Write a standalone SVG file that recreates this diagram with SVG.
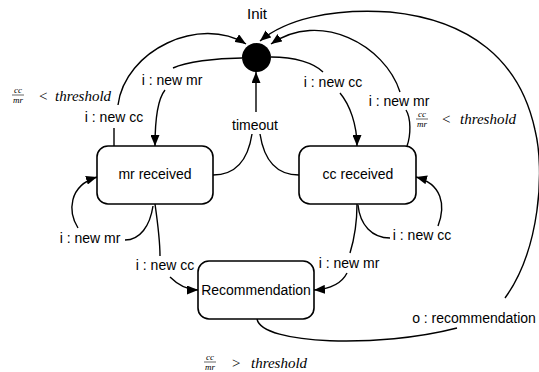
<svg xmlns="http://www.w3.org/2000/svg" width="539" height="372" viewBox="0 0 539 372">
<defs>
<marker id="ah" markerWidth="11" markerHeight="9" refX="11" refY="4.5" orient="auto" markerUnits="userSpaceOnUse">
<path d="M0,0 L11,4.5 L0,9 z" fill="#000"/>
</marker>
<style>
.st{fill:#fff;stroke:#000;stroke-width:1.6}
.lbl{font-family:"Liberation Sans",Arial,sans-serif;font-size:14px;fill:#000;text-anchor:middle}
.nm{font-family:"Liberation Sans",Arial,sans-serif;font-size:14px;fill:#000;text-anchor:middle}
.ln{fill:none;stroke:#000;stroke-width:1.4}
.arr{marker-end:url(#ah)}
.math{font-family:"Liberation Serif","Times New Roman",serif;font-style:italic;font-size:15px;fill:#000}
.op{font-family:"Liberation Serif","Times New Roman",serif;font-size:15px;fill:#000}
.fr{font-family:"Liberation Serif","Times New Roman",serif;font-style:italic;font-size:9px;fill:#000;text-anchor:middle}
</style>
</defs>
<rect width="539" height="372" fill="#fff"/>
<g id="connectors">
<path class="ln" d="M114,146 L114,128"/>
<path class="ln arr" d="M118,105 C125,50 200,15 246,44"/>
<path class="ln" d="M242,58 C215,58 186,62 173,68"/>
<path class="ln arr" d="M165,90 C157,100 155,120 155,146"/>
<path class="ln" d="M271,57 C295,57 314,63 323,72"/>
<path class="ln arr" d="M340,93 C350,105 357,125 357,146"/>
<path class="ln" d="M407,146 C411,135 411,118 406,110"/>
<path class="ln arr" d="M400,92 C385,45 320,10 271,44"/>
<path class="ln arr" d="M256,112 L256,72"/>
<path class="ln" d="M252,134 C248,160 236,175 213,175"/>
<path class="ln" d="M260,134 C264,160 276,175 299,175"/>
<path class="ln" d="M153,206 C150,226 140,240 125,240"/>
<path class="ln arr" d="M78,228 C68,212 68,186 97,177"/>
<path class="ln" d="M358,205 C360,225 372,238 390,238"/>
<path class="ln arr" d="M438,226 C446,205 442,184 416,177"/>
<path class="ln" d="M155,204 C158,225 160,240 160,256"/>
<path class="ln arr" d="M170,277 C178,285 187,290 198,290"/>
<path class="ln" d="M357,204 C357,225 354,240 350,253"/>
<path class="ln arr" d="M347,273 C342,283 330,289 314,290"/>
<path class="ln" d="M257,319 C262,345 380,348 457,328"/>
<path class="ln arr" d="M505,298 C540,250 545,170 535,130 C520,60 470,20 390,12 C330,8 285,20 260,41"/>
</g>
<g id="labels">
<text class="lbl" x="114" y="122">i : new cc</text>
<text class="lbl" x="172" y="85">i : new mr</text>
<text class="lbl" x="333" y="87">i : new cc</text>
<text class="lbl" x="399" y="106">i : new mr</text>
<text class="nm" x="255" y="130">timeout</text>
<text class="lbl" x="90" y="243">i : new mr</text>
<text class="lbl" x="422" y="240">i : new cc</text>
<text class="lbl" x="165" y="270">i : new cc</text>
<text class="lbl" x="349" y="268">i : new mr</text>
<text class="lbl" x="474" y="323">o : recommendation</text>
</g>
<g id="guard-left">
<text class="fr" x="18" y="93">cc</text>
<line x1="12" y1="95" x2="24" y2="95" stroke="#000" stroke-width="0.6"/>
<text class="fr" x="18" y="103">mr</text>
<text class="op" x="39" y="101">&lt;</text>
<text class="math" x="55" y="101">threshold</text>
</g>
<g id="guard-right">
<text class="fr" x="422" y="117">cc</text>
<line x1="416" y1="119" x2="428" y2="119" stroke="#000" stroke-width="0.6"/>
<text class="fr" x="422" y="127">mr</text>
<text class="op" x="442" y="124">&lt;</text>
<text class="math" x="460" y="124">threshold</text>
</g>
<g id="guard-bottom">
<text class="fr" x="210" y="360">cc</text>
<line x1="204" y1="362" x2="216" y2="362" stroke="#000" stroke-width="0.6"/>
<text class="fr" x="210" y="370">mr</text>
<text class="op" x="232" y="368">&gt;</text>
<text class="math" x="251" y="368">threshold</text>
</g>
<g id="init">
<circle cx="256.5" cy="57.5" r="14.5" fill="#000"/>
<text x="257" y="19" style="font-family:'Liberation Sans',Arial,sans-serif;font-size:15px;text-anchor:middle">Init</text>
</g>
<g id="mr-received">
<rect class="st" x="97" y="146" width="116" height="58" rx="11"/>
<text class="nm" x="155" y="179">mr received</text>
</g>
<g id="cc-received">
<rect class="st" x="299" y="146" width="117" height="58" rx="11"/>
<text class="nm" x="358" y="179">cc received</text>
</g>
<g id="recommendation">
<rect class="st" x="198" y="261" width="116" height="58" rx="11"/>
<text class="nm" x="256" y="295">Recommendation</text>
</g>
</svg>
